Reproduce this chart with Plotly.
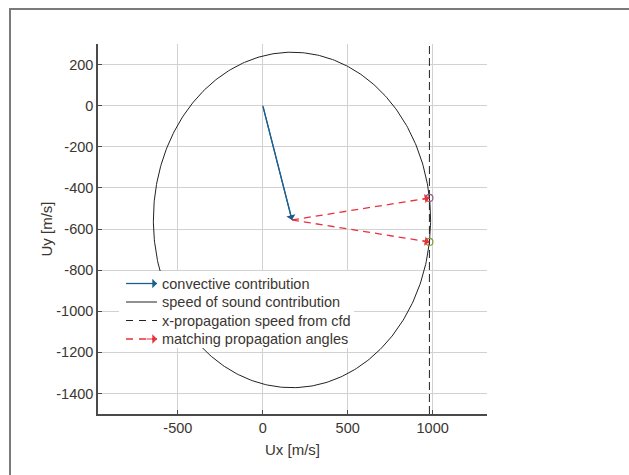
import numpy as np
import plotly.graph_objects as go

# ---- data ----
origin = [0, 0]
convective_end = [172, -556]          # tip of convective vector / circle centre
sound_radius = 816                     # speed of sound contribution (circle radius)
x_prop_speed = 981                     # x-propagation speed from cfd
match_x = [981, 981]
match_y = [-449, -663]                 # matching propagation angle end points
match_colors = ["#8e5a86", "#7f9a3c"]

x_range = [-970, 1320]
y_range = [-1500, 300]
x_ticks = [-500, 0, 500, 1000]
y_ticks = [200, 0, -200, -400, -600, -800, -1000, -1200, -1400]

legend_labels = ["convective contribution", "speed of sound contribution",
                 "x-propagation speed from cfd", "matching propagation angles"]

BLUE = "#1a5f8e"
RED = "#e8313a"
BLACK = "#222222"
TXT = "#3b3631"
FONT = "Liberation Sans, Arial, sans-serif"
FS = 14.5

# plot-area geometry (px) used for paper conversions
L, R, T, B = 98, 487, 44, 414
W, H = 629, 475


def px(xp):
    return (xp - L) / (R - L)


def py(yp):
    return (B - yp) / (B - T)


fig = go.Figure()

# circle
t = np.linspace(0, 2 * np.pi, 400)
fig.add_trace(go.Scatter(x=convective_end[0] + sound_radius * np.cos(t),
                         y=convective_end[1] + sound_radius * np.sin(t),
                         mode="lines", line=dict(color=BLACK, width=1),
                         showlegend=False, hoverinfo="skip"))

# vertical dashed line
fig.add_trace(go.Scatter(x=[x_prop_speed, x_prop_speed], y=y_range, mode="lines",
                         line=dict(color=BLACK, width=1, dash="8px,4px"),
                         showlegend=False, hoverinfo="skip"))

# convective arrow
fig.add_trace(go.Scatter(x=[origin[0], convective_end[0]], y=[origin[1], convective_end[1]],
                         mode="lines", line=dict(color=BLUE, width=1.3),
                         showlegend=False, hoverinfo="skip"))
fig.add_annotation(x=convective_end[0], y=convective_end[1], ax=origin[0], ay=origin[1],
                   xref="x", yref="y", axref="x", ayref="y", text="", showarrow=True,
                   arrowhead=1, arrowsize=1.3, arrowwidth=1.2, arrowcolor=BLUE)

# matching propagation arrows
for mx, my in zip(match_x, match_y):
    fig.add_trace(go.Scatter(x=[convective_end[0], mx], y=[convective_end[1], my],
                             mode="lines", line=dict(color=RED, width=1.3, dash="7px,5px"),
                             showlegend=False, hoverinfo="skip"))
    fig.add_annotation(x=mx, y=my,
                       ax=mx - 0.06 * (mx - convective_end[0]),
                       ay=my - 0.06 * (my - convective_end[1]),
                       xref="x", yref="y", axref="x", ayref="y", text="", showarrow=True,
                       arrowhead=1, arrowsize=1.3, arrowwidth=1.2, arrowcolor=RED)

# matching points
fig.add_trace(go.Scatter(x=match_x, y=match_y, mode="markers",
                         marker=dict(symbol="circle-open", size=7, color=match_colors,
                                     line=dict(width=1.2, color=match_colors)),
                         showlegend=False, hoverinfo="skip"))

# outer frame
fig.add_shape(type="rect", xref="paper", yref="paper",
              x0=px(10), x1=px(W + 20), y0=py(H + 20), y1=py(9),
              line=dict(color="#7a7a7a", width=2), layer="below")

# ---- manual legend ----
fig.add_shape(type="rect", xref="paper", yref="paper",
              x0=px(119), x1=px(354), y0=py(348), y1=py(271),
              fillcolor="white", line=dict(width=0), layer="above")
rows = [283.5, 302, 320.5, 339]
sym_x0, sym_x1, text_x = 126, 157, 160
styles = [dict(color=BLUE, width=1.3), dict(color=BLACK, width=1),
          dict(color=BLACK, width=1, dash="7px,6px"), dict(color=RED, width=1.3, dash="7px,6px")]
for i, (lab, st, ry) in enumerate(zip(legend_labels, styles, rows)):
    fig.add_shape(type="line", xref="paper", yref="paper",
                  x0=px(sym_x0), x1=px(sym_x1), y0=py(ry), y1=py(ry),
                  line=st, layer="above")
    if i in (0, 3):
        fig.add_annotation(x=px(sym_x1), y=py(ry), xref="paper", yref="paper",
                           ax=-12, ay=0, text="", showarrow=True,
                           arrowhead=1, arrowsize=1.3, arrowwidth=1.2,
                           arrowcolor=st["color"])
    fig.add_annotation(x=px(text_x), y=py(ry), xref="paper", yref="paper",
                       text=lab, showarrow=False, xanchor="left", yanchor="middle",
                       font=dict(size=FS, color=TXT, family=FONT))

axis_common = dict(showgrid=True, gridcolor="#d2d2d2", gridwidth=1, zeroline=False,
                   showline=True, linecolor="#4a4a4a", linewidth=1.5,
                   ticks="inside", ticklen=4, tickcolor="#4a4a4a",
                   tickfont=dict(size=FS, color=TXT, family=FONT))

fig.update_layout(
    width=W, height=H,
    margin=dict(l=L, r=W - R, t=T, b=H - B),
    paper_bgcolor="white", plot_bgcolor="white",
    font=dict(family=FONT, size=FS, color=TXT),
    xaxis=dict(range=x_range, tickvals=x_ticks, ticktext=[str(v) for v in x_ticks],
               title=dict(text="Ux [m/s]", standoff=9, font=dict(size=15, color=TXT)),
               **axis_common),
    yaxis=dict(range=y_range, tickvals=y_ticks, ticktext=[str(v) for v in y_ticks],
               title=dict(text="Uy [m/s]", standoff=0, font=dict(size=15, color=TXT)),
               **axis_common),
    showlegend=False,
)

fig.write_html("out.html")
